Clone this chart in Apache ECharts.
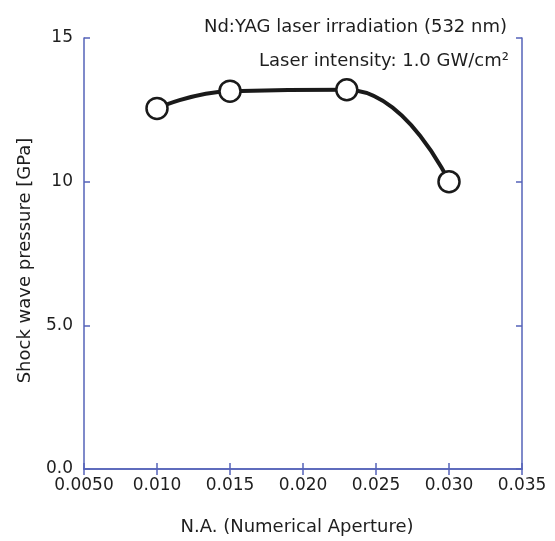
<!DOCTYPE html>
<html>
<head>
<meta charset="utf-8">
<script src="https://cdn.jsdelivr.net/npm/echarts@6/dist/echarts.min.js"></script>
<style>
  html, body { margin: 0; padding: 0; background: #fff; }
  #main { width: 555px; height: 541px; }
</style>
</head>
<body>
<div id="main"></div>
<script>
// numerical aperture vs shock wave pressure
var naValues = [0.010, 0.015, 0.023, 0.030];
var pressure = [12.55, 13.15, 13.2, 10.0];
var xTickLabels = ['0.0050', '0.010', '0.015', '0.020', '0.025', '0.030', '0.035'];
var yTickLabels = ['0.0', '5.0', '10', '15'];

var axisColor = '#5563b9';
var textColor = '#1e1e1e';
var font = '"DejaVu Sans", sans-serif';

var dom = document.getElementById('main');
var myChart = echarts.init(dom);

var points = [];
for (var i = 0; i < naValues.length; i++) {
    points.push([naValues[i], pressure[i]]);
}

var option = {
    animation: false,
    backgroundColor: '#fff',
    textStyle: {fontFamily: font},
    title: [
        {
            text: 'Nd:YAG laser irradiation (532 nm)',
            right: 43, top: 13,
            textStyle: {fontSize: 18, fontWeight: 'normal', color: textColor, fontFamily: font}
        },
        {
            text: 'Laser intensity: 1.0 GW/cm²',
            right: 41, top: 47,
            textStyle: {fontSize: 18, fontWeight: 'normal', color: textColor, fontFamily: font}
        }
    ],
    grid: {left: 84, top: 38, right: 33, bottom: 68},
    xAxis: [
        {
            type: 'value',
            min: 0.005, max: 0.035, interval: 0.005,
            position: 'bottom',
            name: 'N.A. (Numerical Aperture)',
            nameLocation: 'middle',
            nameGap: 49,
            nameTextStyle: {fontSize: 18, color: textColor, fontFamily: font, padding: [0, 12, 0, 0]},
            axisLine: {lineStyle: {color: axisColor, width: 1.5}},
            axisTick: {inside: true, length: 6, lineStyle: {color: axisColor, width: 1.5}},
            axisLabel: {
                fontSize: 17, color: textColor, margin: 8, fontFamily: font,
                formatter: function (v) {
                    return xTickLabels[Math.round((v - 0.005) / 0.005)];
                }
            },
            splitLine: {show: false}
        },
        {
            type: 'value',
            min: 0.005, max: 0.035, interval: 0.005,
            position: 'top',
            axisLine: {lineStyle: {color: axisColor, width: 1.5}},
            axisTick: {inside: true, length: 6, lineStyle: {color: axisColor, width: 1.5}},
            axisLabel: {show: false},
            splitLine: {show: false}
        }
    ],
    yAxis: [
        {
            type: 'value',
            min: 0, max: 15, interval: 5,
            position: 'left',
            name: 'Shock wave pressure [GPa]',
            nameLocation: 'middle',
            nameGap: 50,
            nameTextStyle: {fontSize: 18, color: textColor, fontFamily: font, padding: [0, 14, 0, 0]},
            axisLine: {show: true, lineStyle: {color: axisColor, width: 1.5}},
            axisTick: {show: true, inside: true, length: 6, lineStyle: {color: axisColor, width: 1.5}},
            axisLabel: {
                fontSize: 17, color: textColor, margin: 11, fontFamily: font,
                formatter: function (v) {
                    return yTickLabels[Math.round(v / 5)];
                }
            },
            splitLine: {show: false}
        },
        {
            type: 'value',
            min: 0, max: 15, interval: 5,
            position: 'right',
            axisLine: {show: true, lineStyle: {color: axisColor, width: 1.5}},
            axisTick: {show: true, inside: true, length: 6, lineStyle: {color: axisColor, width: 1.5}},
            axisLabel: {show: false},
            splitLine: {show: false}
        }
    ],
    series: [
        {
            type: 'line',
            data: points,
            smooth: 0.5,
            lineStyle: {color: '#1a1a1a', width: 4},
            symbol: 'circle',
            symbolSize: 21,
            itemStyle: {color: '#fff', borderColor: '#1a1a1a', borderWidth: 2.5},
            z: 3
        }
    ]
};

myChart.setOption(option);
</script>
</body>
</html>
